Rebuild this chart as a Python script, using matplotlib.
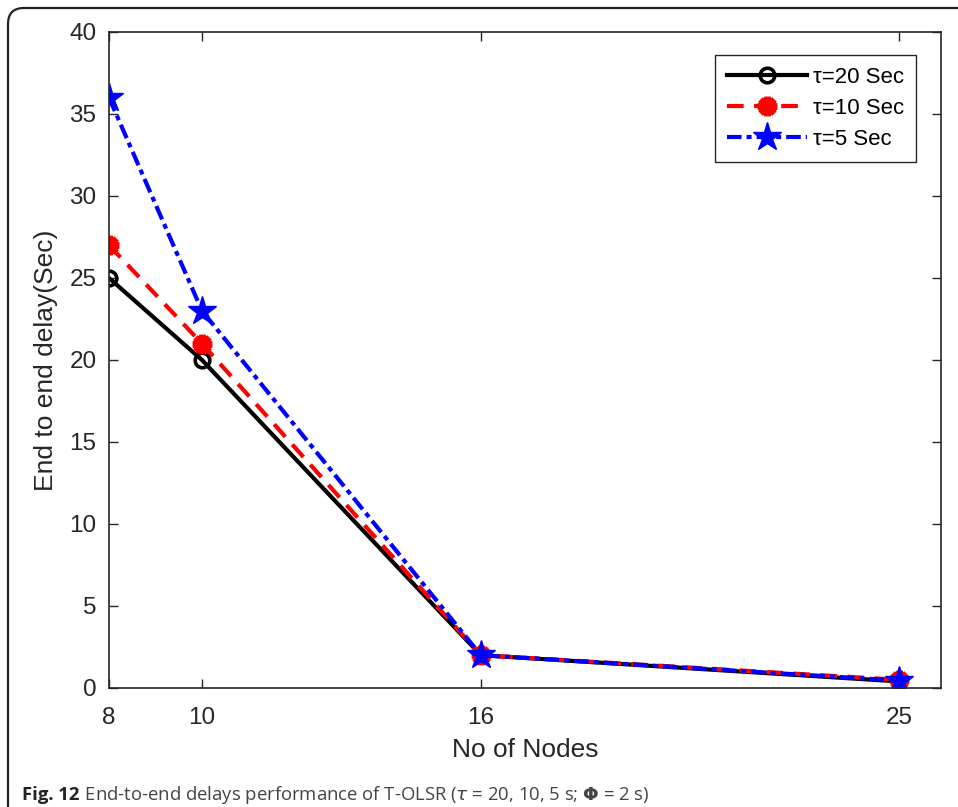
import matplotlib
matplotlib.use("Agg")
import matplotlib.pyplot as plt
from matplotlib.patches import FancyBboxPatch
from matplotlib.text import Annotation

nodes = [8, 10, 16, 25]
delay_tau20 = [25, 20, 2, 0.4]
delay_tau10 = [27, 21, 2, 0.5]
delay_tau5 = [36, 23, 2, 0.45]
labels = ["τ=20 Sec", "τ=10 Sec", "τ=5 Sec"]
yticks = [0, 5, 10, 15, 20, 25, 30, 35, 40]

plt.rcParams['font.family'] = ['Liberation Sans', 'DejaVu Sans']
dark = '#262626'

fig = plt.figure(figsize=(9.58, 8.07), dpi=100)
ax = fig.add_axes([109/958, 1-688/807, (941-109)/958, (688-32)/807])

ax.plot(nodes, delay_tau20, color='black', lw=3.0, ls='-', marker='o',
        markersize=10.5, markerfacecolor='none', markeredgewidth=2.6, label=labels[0])
ax.plot(nodes, delay_tau10, color='red', lw=3.0, ls=(0, (4, 2.5)), marker=(8, 2, 0),
        markersize=14, markeredgewidth=4.5, label=labels[1])
ax.plot(nodes, delay_tau5, color='blue', lw=3.0, ls=(0, (3.5, 1.2, 1.2, 1.2)), marker='*',
        markersize=21, markeredgewidth=1, label=labels[2])

ax.set_xlim(8, 25.9)
ax.set_ylim(0, 40)
ax.set_xticks(nodes)
ax.set_yticks(yticks)
ax.tick_params(direction='in', top=True, right=True, length=6.5, width=1,
               labelsize=17.5, colors=dark)
ax.tick_params(axis='x', pad=13.5)
ax.tick_params(axis='y', pad=9)
for s in ax.spines.values():
    s.set_color(dark)
    s.set_linewidth(1.2)

ax.set_xlabel("No of Nodes", fontsize=19, color=dark, labelpad=7)
ax.set_ylabel("End to end delay(Sec)", fontsize=19, color=dark, labelpad=8)

leg = ax.legend(loc='upper right', bbox_to_anchor=(0.970, 0.965), borderaxespad=0,
                fontsize=16, handlelength=3.6, handletextpad=0.25, borderpad=0.55,
                labelspacing=0.45, fancybox=False, edgecolor=dark, framealpha=1)
leg.get_frame().set_linewidth(1.0)

# figure border (rounded)
border = FancyBboxPatch((0.08, -0.5), 20, 8.07 - 0.08 + 0.5,
                        boxstyle="round,pad=0,rounding_size=0.16",
                        transform=fig.dpi_scale_trans, fill=False,
                        edgecolor='#222222', lw=1.6, clip_on=False)
fig.patches.append(border)

# caption
t1 = fig.text(22/958, 1-795/807, "Fig. 12", fontsize=13.3, fontweight='bold',
              family='Open Sans', color='#222222', va='center')
cap = Annotation(r" End-to-end delays performance of T-OLSR ($\tau$ = 20, 10, 5 s; $\mathbf{\Phi}$ = 2 s)",
                 xy=(1, 0.5), xycoords=t1, va='center', fontsize=13.3,
                 family='Open Sans', color='#444444')
fig.add_artist(cap)

fig.savefig("out.png", dpi=100)
